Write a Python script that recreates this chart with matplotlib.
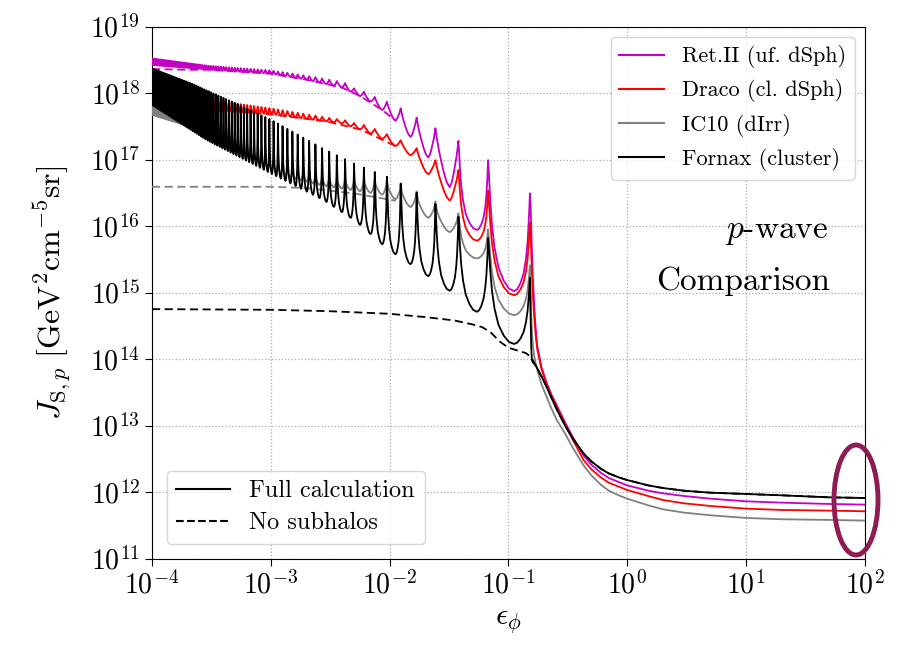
import numpy as np
import matplotlib
matplotlib.use("Agg")
import matplotlib.pyplot as plt
from matplotlib.patches import Ellipse
from matplotlib.lines import Line2D

plt.rcParams['font.family'] = 'serif'
plt.rcParams['font.serif'] = ['cmr10']
plt.rcParams['mathtext.fontset'] = 'cm'
plt.rcParams['axes.formatter.use_mathtext'] = True
plt.rcParams['axes.unicode_minus'] = False

peak_eps = [0.1520, 0.06755, 0.03799, 0.02432, 0.01689, 0.01241, 0.009499, 0.007505,
            0.006079, 0.005024, 0.004222, 0.003597, 0.003102, 0.002702, 0.002375,
            0.002104, 0.001876, 0.001684, 0.001520, 0.001379, 0.001256, 0.001149,
            0.001055, 0.0009727, 0.0008993, 0.0008339, 0.0007754, 0.0007228,
            0.0006754, 0.0006326, 0.0005937, 0.0005582, 0.0005259, 0.0004963,
            0.0004691, 0.0004441, 0.0004210, 0.0003997, 0.0003799, 0.0003616,
            0.0003446, 0.0003288, 0.0003140, 0.0003002, 0.0002873, 0.0002752,
            0.0002638, 0.0002532, 0.0002432, 0.0002337, 0.0002248, 0.0002164,
            0.0002085, 0.0002010, 0.0001938, 0.0001871, 0.0001807, 0.0001746,
            0.0001689, 0.0001634, 0.0001581, 0.0001532, 0.0001484, 0.0001439,
            0.0001396, 0.0001354, 0.0001315, 0.0001277, 0.0001241, 0.0001206,
            0.0001173, 0.0001141, 0.0001110, 0.0001081, 0.0001052, 0.0001025,
            0.0001000]

# log10 J : upper envelope (spike tops), lower envelope (valleys)
ret_top_x = [1e-4, 3e-4, 1e-3, 2e-3, 0.0036, 0.00422, 0.00502, 0.00608, 0.0075, 0.0095,
             0.0124, 0.0169, 0.0243, 0.038, 0.0676, 0.152]
ret_top = [18.52, 18.41, 18.34, 18.26, 18.18, 18.15, 18.07, 18.02, 17.94, 17.87,
           17.77, 17.63, 17.47, 17.28, 16.99, 16.49]
ret_bot_x = [1e-4, 3e-4, 1e-3, 2e-3, 0.004, 0.0047, 0.0057, 0.00697, 0.00875, 0.0113,
             0.0152, 0.0214, 0.0325, 0.0552, 0.1144]
ret_bot = [18.42, 18.35, 18.29, 18.20, 18.08, 18.02, 17.95, 17.87, 17.74, 17.58,
           17.33, 17.02, 16.57, 15.92, 14.99]

dra_top_x = [1e-4, 3e-4, 1e-3, 3e-3, 0.00422, 0.00502, 0.00608, 0.0075, 0.0095, 0.0124,
             0.0169, 0.0243, 0.038, 0.0676, 0.152]
dra_top = [17.98, 17.90, 17.77, 17.63, 17.59, 17.55, 17.52, 17.46, 17.38, 17.29,
           17.17, 16.99, 16.84, 16.53, 16.05]
dra_bot_x = [1e-4, 3e-4, 1e-3, 3e-3, 0.004, 0.0047, 0.0057, 0.00697, 0.00875, 0.0113,
             0.0152, 0.0214, 0.0325, 0.0552, 0.1144]
dra_bot = [17.80, 17.75, 17.68, 17.57, 17.54, 17.50, 17.45, 17.39, 17.31, 17.20,
           17.06, 16.77, 16.37, 15.76, 14.93]

ic_top_x = [1e-4, 2e-4, 4e-4, 7e-4, 1e-3, 1.5e-3, 2.5e-3, 0.0036, 0.005, 0.0075, 0.0095,
            0.0124, 0.0169, 0.0243, 0.038, 0.0676, 0.152]
ic_top = [17.85, 17.66, 17.40, 17.16, 17.0, 16.86, 16.76, 16.72, 16.71, 16.70, 16.69,
          16.62, 16.52, 16.37, 16.19, 15.95, 15.41]
ic_bot_x = [1e-4, 2e-4, 4e-4, 7e-4, 1e-3, 1.5e-3, 2.5e-3, 0.004, 0.0057, 0.00875, 0.0113,
            0.0152, 0.0214, 0.0325, 0.0552, 0.1144]
ic_bot = [17.67, 17.50, 17.25, 17.02, 16.85, 16.72, 16.62, 16.56, 16.52, 16.47, 16.40,
          16.28, 16.12, 15.90, 15.50, 14.63]

fnx_top_x = [1e-4, 2.1e-4, 5e-4, 1e-3, 2.78e-3, 5.3e-3, 0.0095, 0.0124, 0.0169, 0.0243,
             0.038, 0.0676, 0.152]
fnx_top = [18.37, 18.15, 17.85, 17.60, 17.16, 16.92, 16.74, 16.64, 16.50, 16.33,
           16.14, 15.82, 15.22]
fnx_bot_x = [1e-4, 2.9e-4, 1e-3, 2.78e-3, 5.3e-3, 0.00875, 0.0113, 0.0152, 0.0214,
             0.0325, 0.0552, 0.1144]
fnx_bot = [17.82, 17.29, 16.79, 16.39, 16.06, 15.72, 15.57, 15.42, 15.24, 15.02,
           14.70, 14.21]

# log10 J after the last resonance
tail_x = [0.154, 0.156, 0.158, 0.161, 0.165, 0.17, 0.175, 0.19, 0.21, 0.23, 0.256, 0.3,
          0.35, 0.43, 0.5, 0.6, 0.7, 0.85, 1, 1.5, 2, 3, 5, 10, 20, 50, 100]
ret_tail = [16.3, 15.95, 15.6, 15.2, 14.8, 14.45, 14.2, 13.88, 13.64, 13.47, 13.3, 13.05,
            12.82, 12.55, 12.41, 12.29, 12.21, 12.15, 12.10, 12.02, 11.98, 11.94, 11.90,
            11.86, 11.84, 11.82, 11.81]
dra_tail = [15.9, 15.6, 15.3, 14.95, 14.65, 14.35, 14.15, 13.85, 13.62, 13.45, 13.28, 13.02,
            12.78, 12.48, 12.34, 12.22, 12.14, 12.08, 12.03, 11.94, 11.88, 11.83, 11.79,
            11.75, 11.73, 11.72, 11.71]
ic_tail = [15.0, 14.65, 14.4, 14.2, 14.05, 13.93, 13.84, 13.62, 13.43, 13.26, 13.08, 12.88,
           12.66, 12.40, 12.25, 12.11, 12.02, 11.95, 11.90, 11.80, 11.74, 11.69, 11.65,
           11.61, 11.59, 11.58, 11.57]
fnx_tail = [14.6, 14.15, 13.98, 13.95, 13.93, 13.9, 13.86, 13.74, 13.58, 13.42, 13.24, 13.0,
            12.8, 12.58, 12.46, 12.35, 12.28, 12.22, 12.18, 12.10, 12.06, 12.02, 11.99,
            11.97, 11.95, 11.92, 11.91]

# no subhalos (log10 J)
ret_ns_x = [1e-4, 2e-4, 3e-4, 1e-3, 2e-3, 4e-3, 0.0057, 0.00875, 0.0113]
ret_ns = [18.36, 18.35, 18.35, 18.29, 18.20, 18.08, 17.95, 17.74, 17.58]
dra_ns_x = [1e-4, 2e-4, 3e-4, 1e-3, 3e-3, 0.0057, 0.0113]
dra_ns = [17.72, 17.74, 17.75, 17.68, 17.57, 17.45, 17.20]
ic_ns_x = [1e-4, 1e-3, 2e-3, 5e-3, 0.0113]
ic_ns = [16.59, 16.59, 16.57, 16.49, 16.38]
fnx_ns_x = [1e-4, 1e-3, 3e-3, 0.01, 0.02, 0.035, 0.05, 0.06, 0.071, 0.085, 0.1, 0.14,
            0.155, 0.175, 0.19, 0.21, 0.256, 0.3, 0.35, 0.43, 0.5, 0.6, 0.7, 0.85, 1,
            1.5, 2, 3, 5, 10, 20, 50, 100]
fnx_ns = [14.75, 14.74, 14.72, 14.68, 14.63, 14.58, 14.52, 14.48, 14.40, 14.26, 14.17, 14.09,
          14.03, 13.86, 13.74, 13.58, 13.24, 13.0, 12.8, 12.58, 12.46, 12.35, 12.28, 12.22,
          12.18, 12.10, 12.06, 12.02, 11.99, 11.97, 11.95, 11.92, 11.91]

# spike flank shapes: fraction of the way peak->valley, fraction of the height left
flanks = {
    'sharp': ([0.03, 0.08, 0.15, 0.25, 0.4, 0.6, 0.8], [0.90, 0.70, 0.50, 0.33, 0.18, 0.08, 0.02]),
    'broad': ([0.04, 0.12, 0.25, 0.4, 0.6, 0.8], [0.88, 0.68, 0.50, 0.35, 0.18, 0.06]),
    'round': ([0.04, 0.12, 0.25, 0.4, 0.6, 0.8], [0.93, 0.80, 0.62, 0.45, 0.24, 0.08]),
}


def full_curve(top_x, top_y, bot_x, bot_y, tail_y, shape):
    lp = np.log10(np.sort(peak_eps))
    top = np.interp(lp, np.log10(top_x), top_y)
    npk = len(lp)
    xs, ys = [], []
    for i in range(npk):
        xs.append(lp[i])
        ys.append(top[i])
        if i == npk - 1:
            break
        n_right = npk - i  # resonance index of the right-hand spike
        fd, fg = flanks[shape if n_right >= 4 else 'sharp']
        a, b = lp[i], lp[i + 1]
        v = a + 0.62 * (b - a)
        bot = np.interp(v, np.log10(bot_x), bot_y)
        for d, g in zip(fd, fg):
            xs.append(a + d * (v - a))
            ys.append(bot + g * (top[i] - bot))
        xs.append(v)
        ys.append(bot)
        for d, g in zip(fd[::-1], fg[::-1]):
            xs.append(b - d * (b - v))
            ys.append(bot + g * (top[i + 1] - bot))
    xs += list(np.log10(tail_x))
    ys += list(tail_y)
    return 10 ** np.array(xs), 10 ** np.array(ys)


fig = plt.figure(figsize=(9.09, 6.45), dpi=100)
ax = fig.add_axes([152 / 909, 1 - 558.5 / 645, (864.7 - 152) / 909, (558.5 - 26.5) / 645])

magenta = '#C400C4'
series = [
    (ret_top_x, ret_top, ret_bot_x, ret_bot, ret_tail, ret_ns_x, ret_ns, magenta, 'round'),
    (dra_top_x, dra_top, dra_bot_x, dra_bot, dra_tail, dra_ns_x, dra_ns, 'red', 'round'),
    (ic_top_x, ic_top, ic_bot_x, ic_bot, ic_tail, ic_ns_x, ic_ns, 'gray', 'broad'),
    (fnx_top_x, fnx_top, fnx_bot_x, fnx_bot, fnx_tail, fnx_ns_x, fnx_ns, 'black', 'sharp'),
]
for k, (tx, ty, bx, by, tl, nx, ny, c, shp) in enumerate(series):
    ax.plot(nx, 10 ** np.array(ny), color=c, lw=1.3, dashes=(4.5, 2.5), zorder=2 + k)
    x, y = full_curve(tx, ty, bx, by, tl, shp)
    ax.plot(x, y, color=c, lw=1.3, zorder=3 + k)

ax.set_xscale('log')
ax.set_yscale('log')
ax.set_xlim(1e-4, 1e2)
ax.set_ylim(1e11, 1e19)
ax.set_xticks([1e-4, 1e-3, 1e-2, 1e-1, 1e0, 1e1, 1e2])
ax.set_yticks([10.0 ** p for p in range(11, 20)])
ax.xaxis.set_minor_locator(plt.NullLocator())
ax.yaxis.set_minor_locator(plt.NullLocator())
ax.tick_params(labelsize=20, length=5, width=0.8)
ax.grid(True, ls=':', color='#AAAAAA', lw=0.9)
ax.set_axisbelow(True)

ax.set_xlabel(r'$\epsilon_\phi$', fontsize=22, labelpad=6)
ax.set_ylabel(r'$J_{\mathrm{S},p}\ [\mathrm{GeV}^2\mathrm{cm}^{-5}\mathrm{sr}]$', fontsize=23,
              labelpad=12)

h1 = [Line2D([], [], color=magenta, lw=1.5), Line2D([], [], color='red', lw=1.5),
      Line2D([], [], color='gray', lw=1.5), Line2D([], [], color='black', lw=1.5)]
leg1 = ax.legend(h1, ['Ret.II (uf. dSph)', 'Draco (cl. dSph)', 'IC10 (dIrr)', 'Fornax (cluster)'],
                 loc='upper right', fontsize=16, handlelength=2.0, borderaxespad=0.45,
                 labelspacing=0.5)
ax.add_artist(leg1)
h2 = [Line2D([], [], color='black', lw=1.5), Line2D([], [], color='black', lw=1.5, ls='--')]
ax.legend(h2, ['Full calculation', 'No subhalos'], loc='lower left', fontsize=17.5,
          handlelength=2.2, borderaxespad=0.6, labelspacing=0.4)

fig.text(828 / 909, 1 - 232 / 645, r'$p$-wave', fontsize=24, ha='right', va='center')
fig.text(830 / 909, 1 - 281 / 645, 'Comparison', fontsize=24, ha='right', va='center')

fig.patches.append(Ellipse((856 / 909, 1 - 500 / 645), 44 / 909, 110 / 645,
                           transform=fig.transFigure, fill=False, ec='#8E1B52', lw=3.5))

fig.savefig('out.png', dpi=100)
